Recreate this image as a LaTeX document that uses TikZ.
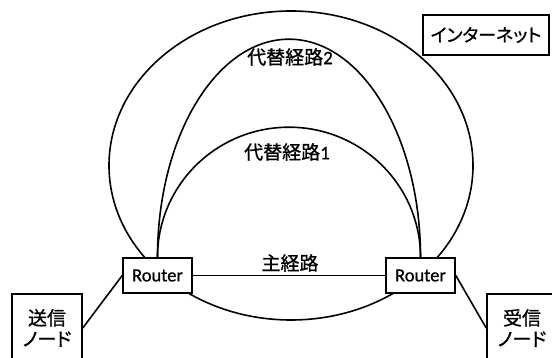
\documentclass[tikz,border=0pt]{standalone}
\usepackage{fontspec}
\setmainfont{Carlito}[FakeBold=0.8,AutoFakeBold=0.8]
\newfontfamily\jp{Noto Sans CJK JP}[FakeBold=1]
\newfontfamily\jpp{Noto Sans CJK JP}[RawFeature=+palt,FakeBold=1]
\newfontfamily\digits{Carlito}[FakeBold=0.8]
\begin{document}
\begin{tikzpicture}[x=1pt,y=1pt,line width=1.6pt,
  box/.style={draw,fill=white,inner sep=0pt},
  router/.style={box,minimum width=69pt,minimum height=35pt,font=\fontsize{18.5}{20}\selectfont},
  endnode/.style={box,minimum width=70pt,minimum height=68pt,align=center,font=\jpp\fontsize{19}{21}\selectfont},
  lbl/.style={inner sep=0pt,font=\jp\fontsize{19}{21}\selectfont}]
\clip (0,0) rectangle (552,358);
\fill[white] (0,0) rectangle (552,358);
\draw (291,192.5) ellipse [x radius=182, y radius=154.5];
\node[router] (r1) at (157.5,82.5) {Router};
\node[router] (r2) at (420.5,82.5) {Router};
\node[endnode] (snd) at (47,30) {送信\\ノード};
\node[endnode] (rcv) at (522,30) {受信\\ノード};
\node[box,minimum width=126pt,minimum height=40pt,font=\jpp\fontsize{18}{20}\selectfont] (net) at (486,323) {インターネット};
\draw (r1) -- (r2);
\draw (snd.east) -- (r1.west);
\draw (r2.east) -- (rcv.west);
\draw (r1.north) arc[start angle=180,end angle=0,x radius=131.5,y radius=218];
\draw (r1.north) arc[start angle=180,end angle=0,x radius=131.5,y radius=130];
\node[lbl] (main) at (290,95) {主経路};
\node[lbl] (alt2) at (290,301) {代替経路{\digits 2}};
\node[lbl] (alt1) at (287,206) {代替経路{\digits 1}};
\end{tikzpicture}
\end{document}
